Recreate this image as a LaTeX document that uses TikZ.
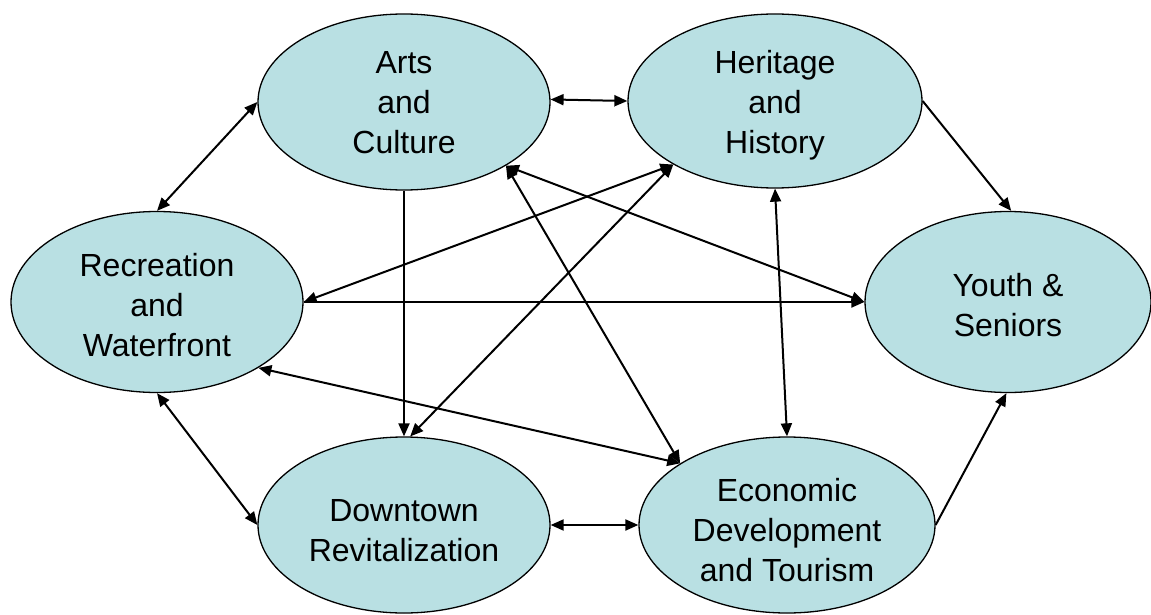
\documentclass[tikz,border=0pt]{standalone}
\usepackage{fontspec}
\setmainfont{Liberation Sans}
\usetikzlibrary{shapes.geometric,arrows.meta}
\definecolor{bubblefill}{RGB}{185,224,227}
\begin{document}
\begin{tikzpicture}[x=1pt,y=-1pt,
  topic/.style={ellipse, draw=black, line width=1.3pt, fill=bubblefill,
    inner sep=0pt, minimum width=292pt, minimum height=176pt},
  caption/.style 2 args={label={[align=center, inner sep=0pt, yshift=-#1pt,
    font=\fontsize{32}{40}\selectfont]center:#2}},
  link/.style={line width=2pt, draw=black},
  both/.style={link, {Triangle[length=13pt,width=11pt]}-{Triangle[length=13pt,width=11pt]}},
  one/.style={link, -{Triangle[length=13pt,width=11pt]}}]
  \useasboundingbox (0,0) rectangle (1151,615);
  \fill[white] (0,0) rectangle (1151,615);

  % topics
  \node[topic, caption={1}{Arts\\and\\Culture}] (arts) at (404,102) {};
  \node[topic, minimum width=294pt, minimum height=174pt,
        caption={4}{Heritage\\and\\History}] (heritage) at (775,101) {};
  \node[topic, minimum height=181pt,
        caption={3}{Recreation\\and\\Waterfront}] (recreation) at (157,302) {};
  \node[topic, minimum width=286pt, minimum height=181pt,
        caption={3}{Youth \&\\Seniors}] (youth) at (1008,302) {};
  \node[topic, caption={6}{Downtown\\Revitalization}] (downtown) at (404,525) {};
  \node[topic, minimum width=296pt,
        caption={5}{Economic\\Development\\and Tourism}] (econ) at (787,525) {};

  % links between topics
  \draw[both] (arts.1) -- (heritage.180);
  \draw[both] (arts.180) -- (recreation.90);
  \draw[one] (heritage.0) -- (youth.88);
  \draw[one] (arts.270) -- (downtown.90);
  \draw[both] (heritage.212) -- (recreation.0);
  \draw[both] (heritage.212) -- (downtown.86);
  \draw[both] (arts.328) -- (youth.180);
  \draw[one] (recreation.0) -- (youth.180);
  \draw[both] (arts.328) -- (econ.150);
  \draw[both] (heritage.270) -- (econ.90);
  \draw[both] (recreation.327) -- (econ.150);
  \draw[both] (recreation.270) -- (downtown.180);
  \draw[both] (downtown.0) -- (econ.180);
  \draw[one] (econ.0) -- (youth.269);
\end{tikzpicture}
\end{document}
